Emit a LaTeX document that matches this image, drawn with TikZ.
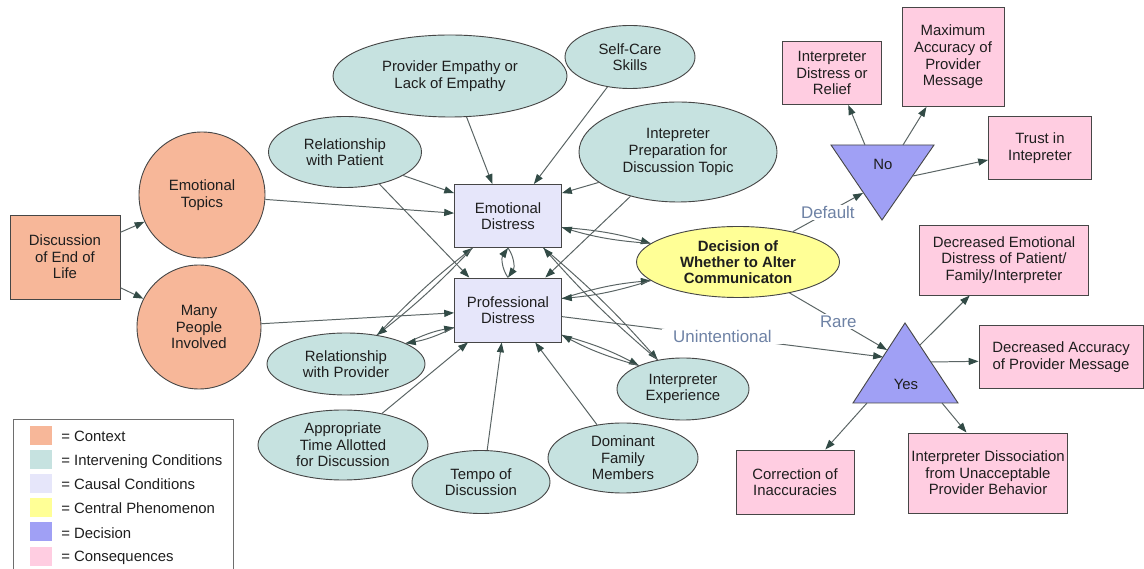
\documentclass[tikz,border=0pt]{standalone}
\usepackage{fontspec}
\setmainfont{Liberation Sans}
\usetikzlibrary{shapes.geometric,arrows.meta}
\definecolor{ctxc}{RGB}{247,183,153}
\definecolor{interc}{RGB}{198,226,224}
\definecolor{causalc}{RGB}{230,230,250}
\definecolor{centralc}{RGB}{255,255,150}
\definecolor{decisc}{RGB}{160,160,245}
\definecolor{consc}{RGB}{255,205,225}
\definecolor{bordc}{RGB}{70,70,70}
\definecolor{linec}{RGB}{90,100,100}
\definecolor{headc}{RGB}{50,75,70}
\definecolor{lblc}{RGB}{110,130,165}
\definecolor{textc}{RGB}{30,30,30}
\definecolor{frmc}{RGB}{110,110,110}
\begin{document}
\begin{tikzpicture}[x=0.025cm,y=-0.025cm,
  base/.style={draw=bordc, line width=0.65pt, inner sep=1pt, align=center, text=textc,
    font=\fontsize{10.6}{11.8}\selectfont},
  sz/.style 2 args={minimum width=#1*0.025cm, minimum height=#2*0.025cm},
  ctxbox/.style={base, rectangle, fill=ctxc},
  ctxcirc/.style={base, circle, fill=ctxc},
  inter/.style={base, ellipse, fill=interc},
  causal/.style={base, rectangle, fill=causalc},
  central/.style={base, ellipse, fill=centralc, font=\fontsize{10.6}{11.3}\selectfont\bfseries},
  cons/.style={base, rectangle, fill=consc},
  decis/.style={draw=bordc, line width=0.65pt, fill=decisc},
  dtext/.style={text=textc, font=\fontsize{10.6}{11.8}\selectfont, inner sep=0pt},
  conn/.style={draw=linec, line width=0.7pt, -{Triangle[length=7pt,width=5pt,color=headc]}},
  lbl/.style={text=lblc, fill=white, font=\fontsize{12}{14}\selectfont, inner ysep=1pt},
  legtext/.style={anchor=base west, text=textc, font=\fontsize{10.6}{12}\selectfont, inner sep=0pt},
  swatch/.style={minimum width=22*0.025cm, minimum height=19*0.025cm, inner sep=0pt}
]
\fill[white] (0,0) rectangle (1144,569);
\useasboundingbox (0,0) rectangle (1144,569);

% context
\node[ctxbox, sz={110}{84}] (disc) at (65,257) {Discussion\\of End of\\Life};
\node[ctxcirc, minimum size=126*0.025cm] (emotop) at (202,195) {Emotional\\Topics};
\node[ctxcirc, minimum size=124*0.025cm] (many) at (199,327) {Many\\People\\Involved};

% intervening
\node[inter, sz={153}{71}] (relpat) at (345,152) {Relationship\\with Patient};
\node[inter, sz={158}{62}] (relprov) at (346,364) {Relationship\\with Provider};
\node[inter, sz={234}{82}] (emp) at (450,76) {Provider Empathy or\\Lack of Empathy};
\node[inter, sz={130}{63}] (self) at (630,57) {Self-Care\\Skills};
\node[inter, sz={198}{100}] (prep) at (678,152) {Intepreter\\Preparation for\\Discussion Topic};
\node[inter, sz={132}{62}] (intexp) at (683,389) {Interpreter\\Experience};
\node[inter, sz={170}{70}] (approp) at (343,445) {Appropriate\\Time Allotted\\for Discussion};
\node[inter, sz={138}{63}] (tempo) at (481,482) {Tempo of\\Discussion};
\node[inter, sz={150}{70}] (dom) at (623,458) {Dominant\\Family\\Members};

% causal
\node[causal, sz={107}{63}] (ed) at (508,216) {Emotional\\Distress};
\node[causal, sz={107}{64}] (pd) at (508,310) {Professional\\Distress};

% central
\node[central, sz={203}{71}] (dec) at (738,262) {Decision of\\Whether to Alter\\Communicaton};

% decisions (triangles)
\coordinate (noA) at (831,145);
\coordinate (noB) at (934,145);
\coordinate (noC) at (882,220);
\draw[decis] (noA) -- (noB) -- (noC) -- cycle;
\node[dtext] (no) at (883,164) {No};
\coordinate (yesA) at (905,323);
\coordinate (yesB) at (853,403);
\coordinate (yesC) at (958,403);
\draw[decis] (yesA) -- (yesB) -- (yesC) -- cycle;
\node[dtext] (yes) at (906,384) {Yes};

% consequences
\node[cons, sz={99}{63}] (idr) at (832,73) {Interpreter\\Distress or\\Relief};
\node[cons, sz={102}{99}] (maxacc) at (953,57) {Maximum\\Accuracy of\\Provider\\Message};
\node[cons, sz={103}{63}] (trust) at (1040,148) {Trust in\\Intepreter};
\node[cons, sz={169}{70}] (decemo) at (1004,260) {Decreased Emotional\\Distress of Patient/\\Family/Interpreter};
\node[cons, sz={164}{63}] (decacc) at (1061,357) {Decreased Accuracy\\of Provider Message};
\node[cons, sz={118}{64}] (corr) at (795,482) {Correction of\\Inaccuracies};
\node[cons, sz={159}{80}] (dis) at (988,473) {Interpreter Dissociation\\from Unacceptable\\Provider Behavior};

% connector end points on the triangles
\coordinate (noL) at (863,193);
\coordinate (noT1) at (865,145);
\coordinate (noT2) at (903,145);
\coordinate (noR) at (913,176);
\coordinate (yesL) at (887,350);
\coordinate (yesU) at (883,357);
\coordinate (yesR1) at (920,345);
\coordinate (yesR2) at (931,362);
\coordinate (yesB1) at (867,403);
\coordinate (yesB2) at (942,403);

% connectors
\draw[conn] (disc.24) -- (emotop.205);
\draw[conn] (disc.-29) -- (many.153);
\draw[conn] (emotop.-4) -- (ed.177);
\draw[conn] (many.3) -- (pd.183);
\draw[conn] (relpat.-22) -- (ed.157);
\draw[conn] (relpat.-43) -- (pd.140);
\draw[conn] (relprov.43) to[bend left=4] (ed.222);
\draw[conn] (ed.222) to[bend left=4] (relprov.43);
\draw[conn] (relprov.19) to[bend left=8] (pd.198);
\draw[conn] (pd.198) to[bend left=8] (relprov.19);
\draw[conn] (ed.south) to[bend left=35] (pd.north);
\draw[conn] (pd.north) to[bend left=35] (ed.south);
\draw[conn] (emp.-68) -- (ed.116);
\draw[conn] (self.233) -- (ed.51);
\draw[conn] (prep.201) -- (ed.23);
\draw[conn] (prep.223) -- (pd.41);
\draw[conn] (ed.-12) to[bend left=6] (dec.168);
\draw[conn] (dec.168) to[bend left=6] (ed.-12);
\draw[conn] (pd.12) to[bend left=6] (dec.192);
\draw[conn] (dec.192) to[bend left=6] (pd.12);
\draw[conn] (ed.-42) to[bend left=4] (intexp.131);
\draw[conn] (intexp.131) to[bend left=4] (ed.-42);
\draw[conn] (pd.-25) to[bend left=6] (intexp.152);
\draw[conn] (intexp.152) to[bend left=6] (pd.-25);
\draw[conn] (approp.39) -- (pd.219);
\draw[conn] (tempo.79) -- (pd.259);
\draw[conn] (dom.128) -- (pd.-50);
\draw[conn] (pd.-7) -- node[lbl, inner xsep=8pt] {Unintentional} (yesU);
\draw[conn] (dec.29) -- node[lbl, inner xsep=1pt] {Default} (noL);
\draw[conn] (dec.-31) -- node[lbl, inner xsep=2pt] {Rare} (yesL);
\draw[conn] (noT1) -- (idr.-63);
\draw[conn] (noT2) -- (maxacc.242);
\draw[conn] (noR) -- (trust.193);
\draw[conn] (yesR1) -- (decemo.226);
\draw[conn] (yesR2) -- (decacc.183);
\draw[conn] (yesB1) -- (corr.47);
\draw[conn] (yesB2) -- (dis.118);

% legend
\draw[frmc, line width=0.6pt] (13,569) |- (233,419) -- (233,569);
\node[swatch, fill=ctxc] (lg1) at (41,436) {};
\node[swatch, fill=interc] (lg2) at (41,460) {};
\node[swatch, fill=causalc] (lg3) at (41,484) {};
\node[swatch, fill=centralc] (lg4) at (41,508) {};
\node[swatch, fill=decisc] (lg5) at (41,532) {};
\node[swatch, fill=consc] (lg6) at (41,556) {};
\node[legtext] (lt1) at (61,442) {= Context};
\node[legtext] (lt2) at (61,466) {= Intervening Conditions};
\node[legtext] (lt3) at (61,490) {= Causal Conditions};
\node[legtext] (lt4) at (61,514) {= Central Phenomenon};
\node[legtext] (lt5) at (61,538) {= Decision};
\node[legtext] (lt6) at (61,562) {= Consequences};
\end{tikzpicture}
\end{document}
